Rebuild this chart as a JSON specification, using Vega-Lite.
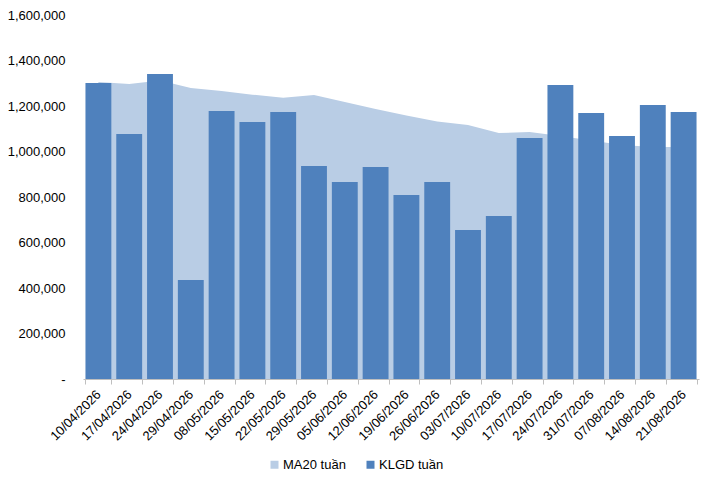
{
  "$schema": "https://vega.github.io/schema/vega-lite/v6.json",
  "description": "KLGD tuần vs MA20 tuần",
  "autosize": "none",
  "width": 616,
  "height": 364,
  "padding": {"left": 83, "top": 15, "right": 3, "bottom": 99},
  "background": "white",
  "config": {
    "view": {"stroke": null},
    "font": "Liberation Sans",
    "axis": {"labelFont": "Liberation Sans", "labelColor": "#000000"},
    "legend": {"labelFont": "Liberation Sans", "labelColor": "#000000"}
  },
  "data": {
    "values": [
      {"week": "10/04/2026", "klgd": 1301000, "ma20": 1305000},
      {"week": "17/04/2026", "klgd": 1077000, "ma20": 1297000},
      {"week": "24/04/2026", "klgd": 1341000, "ma20": 1312000},
      {"week": "29/04/2026", "klgd": 435000, "ma20": 1279000},
      {"week": "08/05/2026", "klgd": 1178000, "ma20": 1266000},
      {"week": "15/05/2026", "klgd": 1130000, "ma20": 1250000},
      {"week": "22/05/2026", "klgd": 1174000, "ma20": 1236000},
      {"week": "29/05/2026", "klgd": 936000, "ma20": 1248000},
      {"week": "05/06/2026", "klgd": 866000, "ma20": 1218000},
      {"week": "12/06/2026", "klgd": 932000, "ma20": 1187000},
      {"week": "19/06/2026", "klgd": 809000, "ma20": 1158000},
      {"week": "26/06/2026", "klgd": 866000, "ma20": 1132000},
      {"week": "03/07/2026", "klgd": 655000, "ma20": 1116000},
      {"week": "10/07/2026", "klgd": 716000, "ma20": 1081000},
      {"week": "17/07/2026", "klgd": 1059000, "ma20": 1086000},
      {"week": "24/07/2026", "klgd": 1292000, "ma20": 1068000},
      {"week": "31/07/2026", "klgd": 1169000, "ma20": 1048000},
      {"week": "07/08/2026", "klgd": 1068000, "ma20": 1029000},
      {"week": "14/08/2026", "klgd": 1204000, "ma20": 1020000},
      {"week": "21/08/2026", "klgd": 1174000, "ma20": 1020000}
    ]
  },
  "encoding": {
    "x": {
      "field": "week",
      "type": "nominal",
      "sort": null,
      "title": null,
      "scale": {"paddingInner": 0.16, "paddingOuter": 0.08},
      "axis": {
        "labelAngle": -45,
        "labelAlign": "right",
        "labelBaseline": "middle",
        "labelFontSize": 13,
        "labelPadding": 8,
        "tickBand": "extent",
        "tickSize": 5,
        "tickColor": "#bfbfbf",
        "domainColor": "#bfbfbf",
        "grid": false
      }
    }
  },
  "layer": [
    {
      "mark": {"type": "area", "opacity": 1},
      "encoding": {
        "y": {
          "field": "ma20",
          "type": "quantitative",
          "title": null,
          "scale": {"domain": [0, 1600000], "nice": false},
          "axis": {
            "values": [0, 200000, 400000, 600000, 800000, 1000000, 1200000, 1400000, 1600000],
            "labelExpr": "datum.value == 0 ? '-' : format(datum.value, ',')",
            "labelFontSize": 13,
            "labelPadding": 18,
            "domain": false,
            "ticks": false,
            "grid": false
          }
        },
        "color": {"datum": "MA20 tuần"}
      }
    },
    {
      "mark": {"type": "bar"},
      "encoding": {
        "y": {"field": "klgd", "type": "quantitative"},
        "color": {
          "datum": "KLGD tuần",
          "scale": {"domain": ["MA20 tuần", "KLGD tuần"], "range": ["#b9cde5", "#4f81bd"]},
          "legend": {
            "title": null,
            "orient": "none",
            "direction": "horizontal",
            "legendX": 185,
            "legendY": 443,
            "symbolType": "square",
            "symbolSize": 64,
            "symbolStrokeWidth": 0,
            "labelFontSize": 13,
            "columnPadding": 18,
            "labelOffset": 2
          }
        }
      }
    }
  ]
}
